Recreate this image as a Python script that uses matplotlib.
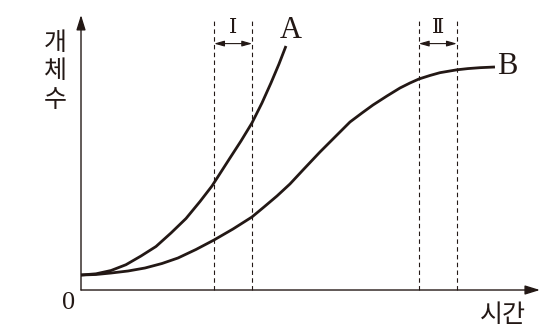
import matplotlib
matplotlib.use('Agg')
import matplotlib.pyplot as plt

# curve values (time, number of individuals)
time_a = [0.0, 0.327, 0.654, 0.980, 1.307, 1.634, 1.961, 2.288, 2.593,
          2.854, 3.246, 3.486, 3.725, 3.943, 4.139, 4.314, 4.466]
count_a = [0.545, 0.589, 0.709, 0.920, 1.236, 1.582, 2.073, 2.600, 3.218,
           3.782, 4.800, 5.418, 6.073, 6.800, 7.527, 8.218, 8.873]

time_b = [0.0, 0.327, 0.654, 1.024, 1.394, 1.765, 2.113, 2.505, 2.898, 3.312,
          3.725, 3.987, 4.270, 4.553, 4.837, 5.207, 5.534, 5.861, 6.122, 6.362,
          6.667, 6.950, 7.168, 7.364, 7.603, 7.821, 8.192, 8.431, 8.693, 9.020]
count_b = [0.545, 0.564, 0.618, 0.691, 0.800, 0.964, 1.164, 1.473, 1.818, 2.218,
           2.655, 3.018, 3.418, 3.855, 4.364, 5.018, 5.564, 6.109, 6.436, 6.727,
           7.055, 7.345, 7.527, 7.673, 7.800, 7.902, 8.007, 8.051, 8.084, 8.109]

# intervals I and II on the time axis
intervals = [(2.90, 3.73), (7.36, 8.19)]
interval_labels = ['Ⅰ', 'Ⅱ']

y_label_chars = ['개', '체', '수']
x_label = '시간'

serif = 'Liberation Serif'
kr = ['Noto Sans CJK KR', 'DejaVu Sans']
ink = '#231815'

fig = plt.figure(figsize=(5.56, 3.35), dpi=100)
ax = fig.add_axes([0, 0, 1, 1])
ax.set_xlim(-1.765, 10.35)
ax.set_ylim(-1.636, 10.545)
ax.axis('off')

# axes with arrow heads
head = '-|>,head_length=0.9,head_width=0.28'
ax.annotate('', xy=(0, 10.0), xytext=(0, 0),
            arrowprops=dict(arrowstyle=head, color=ink, lw=1.0,
                            shrinkA=0, shrinkB=0, mutation_scale=10))
ax.annotate('', xy=(10.0, 0), xytext=(0, 0),
            arrowprops=dict(arrowstyle=head, color=ink, lw=1.0,
                            shrinkA=0, shrinkB=0, mutation_scale=10))

# dashed guide lines and interval arrows
for (x0, x1), lab in zip(intervals, interval_labels):
    for xv in (x0, x1):
        ax.plot([xv, xv], [0, 9.85], color=ink, lw=0.8, ls=(0, (4, 3)))
    ax.annotate('', xy=(x1, 8.96), xytext=(x0, 8.96),
                arrowprops=dict(arrowstyle='<|-|>,head_length=0.6,head_width=0.17',
                                color=ink, lw=0.8, shrinkA=0, shrinkB=0, mutation_scale=10))
    ax.text((x0 + x1) / 2, 9.53, lab, family=['DejaVu Serif', 'Noto Sans CJK KR'],
            fontsize=15, ha='center', va='center', color=ink)

# growth curves
ax.plot(time_a, count_a, color=ink, lw=2.0, solid_capstyle='butt', solid_joinstyle='round')
ax.plot(time_b, count_b, color=ink, lw=2.0, solid_capstyle='butt', solid_joinstyle='round')

ax.text(4.575, 9.45, 'A', family=serif, fontsize=22, ha='center', va='center', color=ink)
ax.text(9.28, 8.11, 'B', family=serif, fontsize=22, ha='center', va='center', color=ink)
ax.text(-0.28, -0.47, '0', family=serif, fontsize=19, ha='center', va='center', color=ink)

for ch, yv in zip(y_label_chars, [8.98, 7.96, 6.91]):
    ax.text(-0.566, yv, ch, family=kr, fontsize=18, ha='center', va='center', color=ink)
ax.text(9.19, -0.91, x_label, family=kr, fontsize=18, ha='center', va='center', color=ink)

fig.savefig('out.png', dpi=100)
